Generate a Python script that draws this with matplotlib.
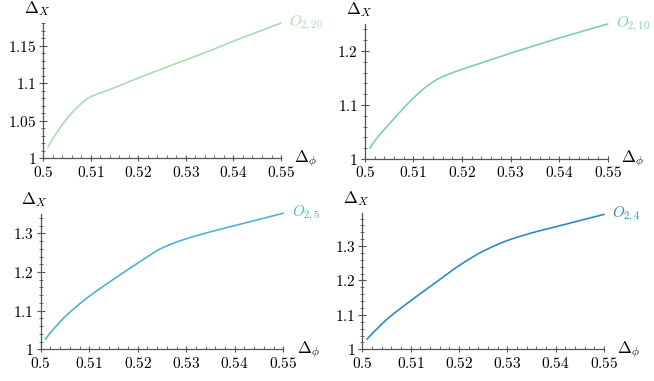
import matplotlib.pyplot as plt
from matplotlib.ticker import MultipleLocator, FuncFormatter
import numpy as np

plt.rcParams['mathtext.fontset'] = 'cm'
plt.rcParams['font.family'] = 'serif'
plt.rcParams['font.serif'] = ['cmr10', 'DejaVu Serif']
plt.rcParams['axes.formatter.use_mathtext'] = True

# one curve per panel
x_20 = [0.501, 0.5025, 0.505, 0.5075, 0.51, 0.5125, 0.515, 0.52, 0.525, 0.53,
        0.535, 0.54, 0.545, 0.55]
y_20 = [1.015, 1.031, 1.053, 1.070, 1.082, 1.088, 1.094, 1.107, 1.119, 1.131,
        1.143, 1.156, 1.168, 1.180]

x_10 = [0.501, 0.5025, 0.505, 0.5075, 0.51, 0.5125, 0.515, 0.5175, 0.52, 0.525,
        0.53, 0.535, 0.54, 0.545, 0.55]
y_10 = [1.020, 1.039, 1.065, 1.090, 1.113, 1.133, 1.148, 1.158, 1.166, 1.181,
        1.196, 1.210, 1.224, 1.237, 1.250]

x_5 = [0.501, 0.5025, 0.505, 0.51, 0.515, 0.52, 0.525, 0.53, 0.535, 0.54, 0.545, 0.55]
y_5 = [1.027, 1.050, 1.084, 1.137, 1.181, 1.223, 1.262, 1.286, 1.304, 1.320, 1.336, 1.352]

x_4 = [0.501, 0.5025, 0.505, 0.51, 0.515, 0.52, 0.525, 0.53, 0.535, 0.54, 0.545, 0.55]
y_4 = [1.030, 1.052, 1.086, 1.141, 1.192, 1.243, 1.285, 1.316, 1.338, 1.356, 1.374, 1.392]

labels = [r'$O_{2,20}$', r'$O_{2,10}$', r'$O_{2,5}$', r'$O_{2,4}$']
colors = ['#a8ddb5', '#7bccc4', '#4eb3d3', '#2b8cbe']
ytops = [1.18, 1.25, 1.35, 1.395]
ymajor = [0.05, 0.1, 0.1, 0.1]
yminor = [0.01, 0.02, 0.02, 0.02]

boxes = [
    [0.0662, 0.5845, 0.3635, 0.355],
    [0.5580, 0.5827, 0.3712, 0.3543],
    [0.0622, 0.0832, 0.3710, 0.3551],
    [0.5540, 0.0832, 0.3695, 0.3568],
]

series = [(x_20, y_20), (x_10, y_10), (x_5, y_5), (x_4, y_4)]


def end_slope(h0, h1, d0, d1):
    m = ((2 * h0 + h1) * d0 - h0 * d1) / (h0 + h1)
    if np.sign(m) != np.sign(d0):
        return 0.0
    if np.sign(d0) != np.sign(d1) and abs(m) > abs(3 * d0):
        return 3 * d0
    return m


def pchip(xs, ys, xx):
    # monotone cubic (Fritsch-Carlson) so the hand-read points join smoothly
    x = np.asarray(xs, float)
    y = np.asarray(ys, float)
    h = np.diff(x)
    d = np.diff(y) / h
    m = np.zeros_like(y)
    for k in range(1, len(x) - 1):
        if d[k - 1] * d[k] > 0:
            w1 = 2 * h[k] + h[k - 1]
            w2 = h[k] + 2 * h[k - 1]
            m[k] = (w1 + w2) / (w1 / d[k - 1] + w2 / d[k])
    m[0] = end_slope(h[0], h[1], d[0], d[1])
    m[-1] = end_slope(h[-1], h[-2], d[-1], d[-2])
    idx = np.clip(np.searchsorted(x, xx) - 1, 0, len(x) - 2)
    t = (xx - x[idx]) / h[idx]
    h00 = 2 * t**3 - 3 * t**2 + 1
    h10 = t**3 - 2 * t**2 + t
    h01 = -2 * t**3 + 3 * t**2
    h11 = t**3 - t**2
    return (h00 * y[idx] + h10 * h[idx] * m[idx]
            + h01 * y[idx + 1] + h11 * h[idx] * m[idx + 1])


def fmt(v, pos):
    s = f'{v:.2f}'.rstrip('0').rstrip('.')
    return f'${s}$'


fig = plt.figure(figsize=(6.54, 3.81), dpi=100)
axis_col = '#555555'

for i, (xs, ys) in enumerate(series):
    ax = fig.add_axes(boxes[i])
    xx = np.linspace(xs[0], xs[-1], 400)
    yy = pchip(xs, ys, xx)
    ax.plot(xx, yy, color=colors[i], lw=1.2, clip_on=False)
    ax.set_xlim(0.5, 0.55)
    ax.set_ylim(1.0, ytops[i])
    for s in ['top', 'right']:
        ax.spines[s].set_visible(False)
    for s in ['left', 'bottom']:
        ax.spines[s].set_color(axis_col)
        ax.spines[s].set_linewidth(0.9)
    ax.xaxis.set_major_locator(MultipleLocator(0.01))
    ax.xaxis.set_minor_locator(MultipleLocator(0.002))
    ax.yaxis.set_major_locator(MultipleLocator(ymajor[i]))
    ax.yaxis.set_minor_locator(MultipleLocator(yminor[i]))
    ax.xaxis.set_major_formatter(FuncFormatter(fmt))
    ax.yaxis.set_major_formatter(FuncFormatter(fmt))
    ax.tick_params(axis='x', which='major', direction='inout', length=5, width=0.8,
                   color=axis_col, labelsize=11, pad=2)
    ax.tick_params(axis='x', which='minor', direction='in', length=2.5, width=0.6, color=axis_col)
    ax.tick_params(axis='y', which='major', direction='inout', length=6, width=0.8,
                   color=axis_col, labelsize=11, pad=2)
    ax.tick_params(axis='y', which='minor', direction='inout', length=3.5, width=0.6, color=axis_col)
    ax.patch.set_alpha(0)
    ax.text(1.035, ys[-1], labels[i], transform=ax.get_yaxis_transform(),
            color=colors[i], fontsize=11, ha='left', va='center')
    ax.text(-0.025, 1.04, r'$\Delta_X$', transform=ax.transAxes, fontsize=12,
            ha='center', va='bottom')
    ax.text(1.055, 0.0, r'$\Delta_\phi$', transform=ax.transAxes, fontsize=12,
            ha='left', va='center')

fig.savefig('out.png', dpi=100)
